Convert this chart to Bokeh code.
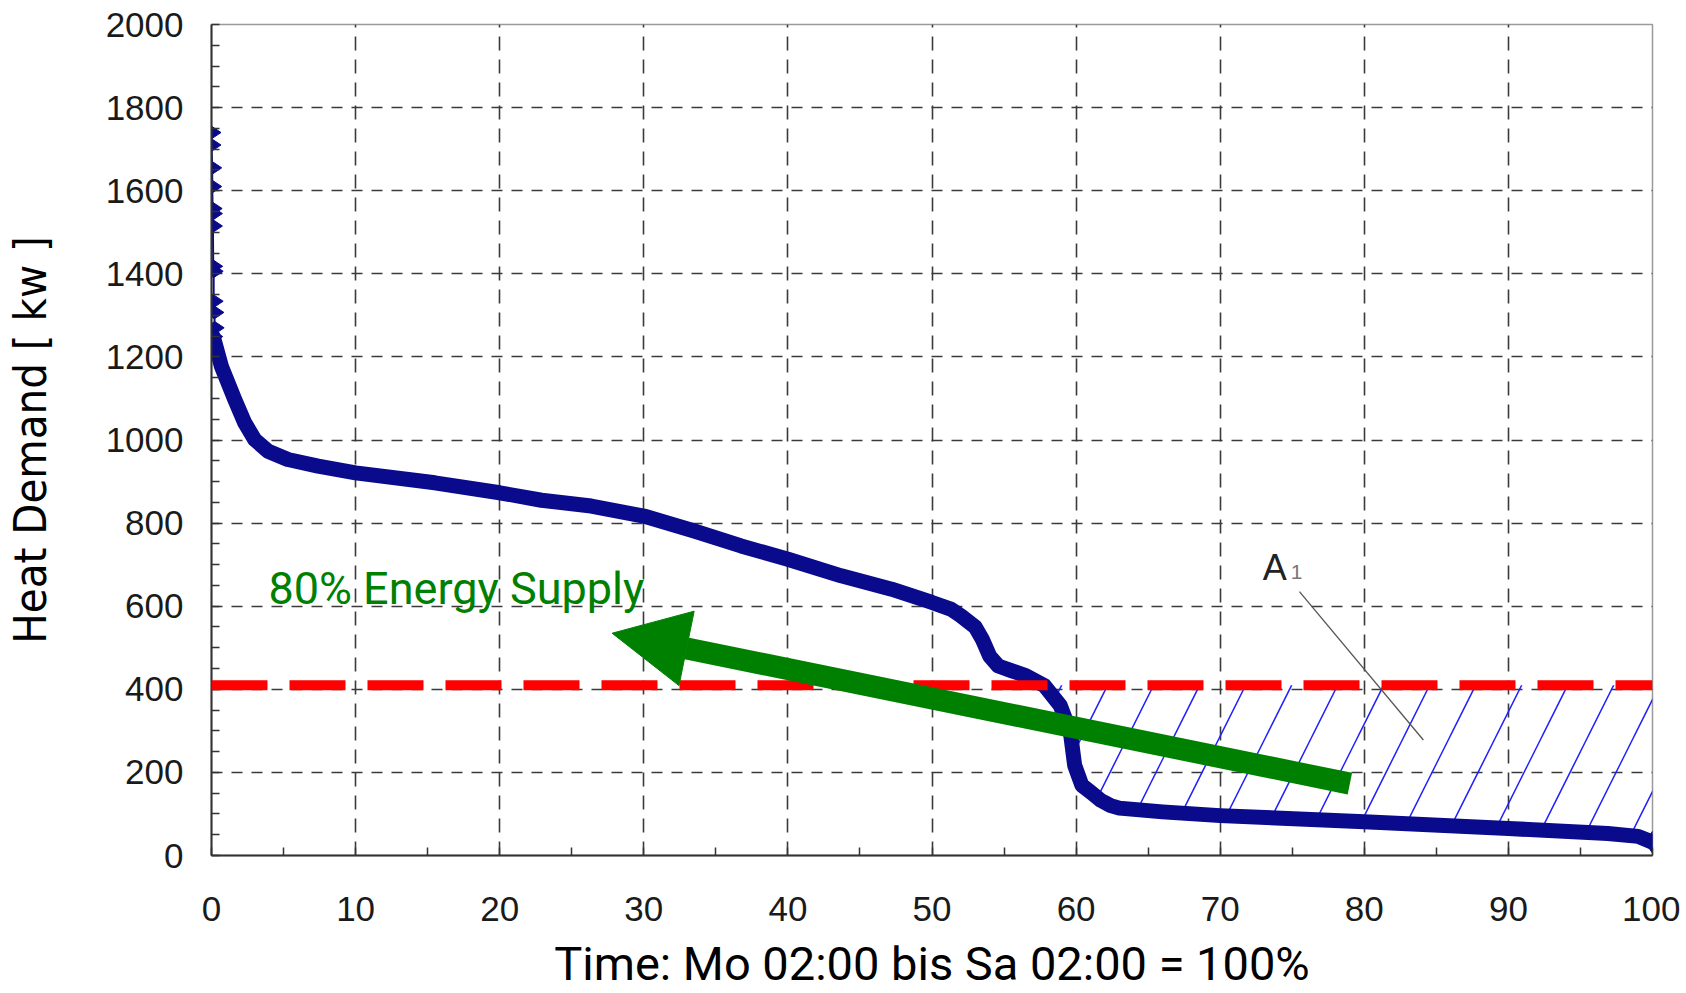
import numpy as np
from bokeh.plotting import figure
from bokeh.models import Range1d, Arrow, NormalHead, Label, Span, FixedTicker
from bokeh.embed import file_html
from bokeh.resources import INLINE

# ---------------- data ----------------
x_ticks = [0, 10, 20, 30, 40, 50, 60, 70, 80, 90, 100]
y_ticks = [0, 200, 400, 600, 800, 1000, 1200, 1400, 1600, 1800, 2000]

# sparse peak points (single markers at the very start)
peak_x = [0.0, 0.0, 0.05, 0.05, 0.08, 0.1, 0.1, 0.12, 0.15, 0.15, 0.2, 0.22, 0.12]
peak_y = [1740, 1710, 1655, 1610, 1557, 1545, 1515, 1418, 1406, 1334, 1307, 1270, 1249]

# sorted heat demand (load duration curve)
demand_x = [0.12, 0.69, 1.62, 2.31, 3.0, 3.93, 5.3, 7.4, 10, 15.5, 20, 22.9, 26.35,
            30, 33.5, 36.75, 40, 43.7, 47.2, 50, 51.3, 52.0, 53.0, 53.5, 54.0, 54.6,
            55.5, 56.5, 57.8, 58.9, 59.6, 59.9, 60.4, 61.1, 61.7, 62.4, 63, 66, 70,
            80, 90, 96.9, 99.0, 100]
demand_y = [1249, 1177, 1097, 1041, 1001, 973, 953, 937, 921, 897, 873, 855, 841,
            817, 781, 745, 713, 673, 641, 609, 593, 577, 550, 520, 480, 456,
            445, 433, 409, 361, 297, 217, 169, 150, 133, 120, 114, 105, 96,
            81, 65, 53, 46, 32]

supply_level = 410          # kW, 80 % energy supply threshold

arrow_start = (79.0, 173)   # tail of green arrow (x %, kW)
arrow_end = (27.8, 535)     # tip of green arrow

a1_leader_x = [75.5, 84.1]
a1_leader_y = [635, 278]

# ---------------- figure ----------------
p = figure(width=1680, height=993,
           x_range=Range1d(0, 100), y_range=Range1d(0, 2000),
           output_backend="svg", toolbar_location=None,
           min_border_left=210, min_border_right=28,
           min_border_top=24, min_border_bottom=136,
           background_fill_color="white", border_fill_color="white")

p.outline_line_color = "#9a9a9a"
p.outline_line_width = 1.5

x_minor = [(a + b) / 2 for a, b in zip(x_ticks[:-1], x_ticks[1:])]
y_minor = [a + k * (b - a) / 4 for a, b in zip(y_ticks[:-1], y_ticks[1:]) for k in (1, 2, 3)]
p.xaxis.ticker = FixedTicker(ticks=x_ticks, minor_ticks=x_minor)
p.yaxis.ticker = FixedTicker(ticks=y_ticks, minor_ticks=y_minor)

for ax in (p.xaxis, p.yaxis):
    ax.axis_line_color = "#333333"
    ax.axis_line_width = 2
    ax.major_tick_in = 8
    ax.major_tick_out = 0
    ax.minor_tick_in = 8
    ax.minor_tick_out = 0
    ax.major_tick_line_color = "#333333"
    ax.minor_tick_line_color = "#333333"
    ax.major_tick_line_width = 1.5
    ax.minor_tick_line_width = 1.5
    ax.major_label_text_font = "Liberation Sans"
    ax.major_label_text_font_size = "35px"
    ax.major_label_text_color = "#1a1a1a"
    ax.axis_label_text_font_style = "normal"
    ax.axis_label_text_color = "black"

p.xaxis.major_label_standoff = 41
p.xaxis.axis_label = "Time: Mo 02:00 bis Sa 02:00 = 100%"
p.xaxis.axis_label_text_font = "Roboto"
p.xaxis.axis_label_text_font_size = "47px"
p.xaxis.axis_label_standoff = 12

p.yaxis.major_label_standoff = 28
p.yaxis.axis_label = "Heat Demand [ kw ]"
p.yaxis.axis_label_text_font = "DejaVu Sans Condensed, DejaVu Sans, sans-serif"
p.yaxis.axis_label_text_font_size = "45px"
p.yaxis.axis_label_standoff = 46

p.xgrid.grid_line_color = "#3a3a3a"
p.xgrid.grid_line_width = 1.6
p.xgrid.grid_line_dash = "14 9"
p.ygrid.grid_line_color = "#3a3a3a"
p.ygrid.grid_line_width = 1.6
p.ygrid.grid_line_dash = "11 9"

# ---------------- hatched area A1 ----------------
cx = np.array(demand_x, dtype=float)
cy = np.array(demand_y, dtype=float)
below = cy <= supply_level
i0 = int(np.argmax(below))
x_cross = np.interp(supply_level, [cy[i0], cy[i0 - 1]], [cx[i0], cx[i0 - 1]])
hx = np.concatenate([[x_cross], cx[below]])
hy = np.concatenate([[supply_level], cy[below]])
p.varea(x=hx, y1=hy, y2=supply_level, fill_color=None, fill_alpha=0,
        hatch_pattern="/", hatch_color="#1f1fff", hatch_weight=1.5, hatch_scale=92)

# ---------------- demand curve ----------------
navy = "#0a0a8c"
p.line(peak_x[:-1], peak_y[:-1], line_color=navy, line_width=2)
p.scatter(peak_x, peak_y, marker="diamond", size=19, angle=np.pi / 2,
          fill_color=navy, line_color=navy)
p.line(demand_x, demand_y, line_color=navy, line_width=15, line_join="round", line_cap="round")
p.scatter([demand_x[-1]], [demand_y[-1]], marker="diamond", size=22,
          fill_color=navy, line_color=navy)

# ---------------- threshold ----------------
p.add_layout(Span(location=supply_level, dimension="width", line_color="#ff0000",
                  line_width=10, line_dash="56 22"))

# ---------------- green arrow + text ----------------
green = "#008000"
p.add_layout(Arrow(end=NormalHead(size=76, fill_color=green, line_color=green, line_width=1),
                   x_start=arrow_start[0], y_start=arrow_start[1],
                   x_end=arrow_end[0], y_end=arrow_end[1],
                   line_color=green, line_width=22))

p.add_layout(Label(x=3.95, y=643, text="80% Energy Supply", text_color=green,
                   text_font="Roboto", text_font_size="45px", text_baseline="alphabetic"))

# ---------------- A1 annotation ----------------
p.line(a1_leader_x, a1_leader_y, line_color="#555555", line_width=1.3)
p.add_layout(Label(x=72.95, y=694, text="A", text_color="#222222",
                   text_font="Liberation Sans", text_font_size="36px",
                   text_baseline="alphabetic"))
p.add_layout(Label(x=74.9, y=682, text="1", text_color="#777777",
                   text_font="Liberation Sans", text_font_size="21px",
                   text_baseline="alphabetic"))

open("out.html", "w").write(file_html(p, INLINE))
